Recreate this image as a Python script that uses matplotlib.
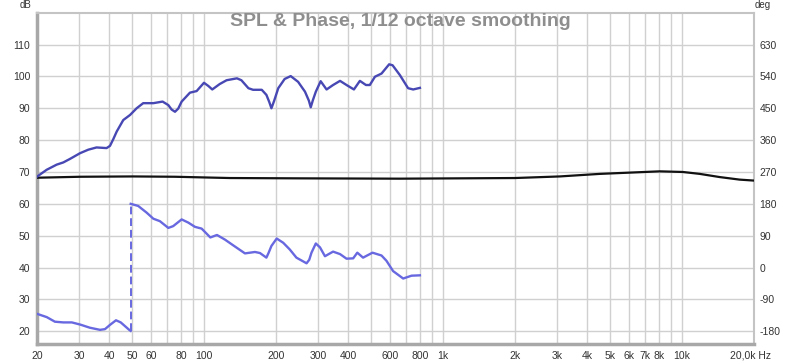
import matplotlib
matplotlib.use("Agg")
import matplotlib.pyplot as plt
from matplotlib.transforms import ScaledTranslation

plt.rcParams['font.family'] = ['Liberation Sans', 'DejaVu Sans']

# ---------------- data ----------------
spl_freq = [20, 21.9, 24.1, 25.7, 27.4, 30.2, 32.7, 35.4, 39.0, 40.3, 41.6, 43.0, 45.8,
            48.9, 52.1, 55.5, 61.2, 66.9, 70.7, 73.0, 75.4, 77.8, 80.4, 87.1, 92.9, 99.7,
            104, 108, 116, 124, 137, 143, 153, 160, 174, 182, 187, 191, 196, 204, 217, 230,
            247, 264, 274, 279, 285, 293, 307, 325, 346, 370, 394, 423, 448, 475, 493,
            518, 552, 594, 614, 659, 713, 749, 799]
spl_db = [68.6, 70.7, 72.3, 73.0, 74.1, 75.9, 77.0, 77.7, 77.5, 78.2, 80.3, 82.7, 86.3,
          87.9, 90.0, 91.6, 91.6, 92.1, 91.0, 89.6, 88.9, 89.9, 92.1, 94.9, 95.4, 98.0,
          97.0, 95.9, 97.6, 98.8, 99.4, 98.8, 96.3, 95.8, 95.8, 94.2, 92.0, 90.0, 92.3, 96.3, 99.2, 100.1,
          98.3, 95.2, 92.4, 90.3, 92.6, 95.2, 98.5, 95.9, 97.3, 98.6, 97.3, 95.9, 98.6, 97.3, 97.3,
          99.9, 100.9, 103.8, 103.5, 100.4, 96.3, 95.9, 96.4]

# phase below the wrap (degrees)
phase_lo_freq = [20, 21.9, 23.7, 25.7, 27.9, 30.2, 33.2, 36.6, 38.4, 40.3, 42.7,
                 44.7, 48.5, 49.2]
phase_lo_deg = [-131, -140, -153, -155, -155, -161, -170, -176, -174, -162, -149,
                -155, -176, -179]
# phase above the wrap (degrees)
phase_hi_freq = [49.2, 52.9, 57.4, 61.2, 65.2, 70.7, 74.1, 80.4, 85.7, 91.4, 97.5,
                 106, 113, 122, 132, 148, 163, 171, 182, 186, 191, 201, 214, 228, 243,
                 268, 275, 281, 293, 305, 320, 346, 370, 394, 420, 437, 462, 506, 552,
                 579, 617, 680, 737, 799]
phase_hi_deg = [180, 174, 155, 138, 131, 112, 117, 136, 127, 115, 110,
                85, 92, 79, 63, 40, 44, 41, 28, 42, 61, 82, 70, 51, 28,
                12, 22, 42, 68, 57, 32, 45, 38, 25, 26, 42, 28, 42, 34,
                19, -10, -31, -23, -22]

ref_freq = [20, 30.2, 50.3, 75.4, 128, 251, 659, 1994, 3076, 4520, 6040, 8060,
            10070, 11860, 14380, 17420, 20000]
ref_db = [68.2, 68.5, 68.6, 68.5, 68.1, 68.0, 67.9, 68.1, 68.6, 69.4, 69.8, 70.2,
          70.0, 69.4, 68.4, 67.6, 67.3]

db_ticks = [20, 30, 40, 50, 60, 70, 80, 90, 100, 110]
deg_ticks = [-180, -90, 0, 90, 180, 270, 360, 450, 540, 630]
x_label_pos = [20, 30, 40, 50, 60, 80, 100, 200, 300, 400, 600, 800, 1000, 2000,
               3000, 4000, 5000, 6000, 7000, 8000, 10000, 20000]
x_labels = ['20', '30', '40', '50', '60', '80', '100', '200', '300', '400', '600',
            '800', '1k', '2k', '3k', '4k', '5k', '6k', '7k', '8k', '10k', '20,0k Hz']

# ---------------- figure ----------------
W, H = 800, 364
fig = plt.figure(figsize=(W / 100, H / 100), dpi=100)
L, R, T, B = 37.3, 754, 12.7, 344
ax = fig.add_axes([L / W, (H - B) / H, (R - L) / W, (B - T) / H])
ax.set_xscale('log')
ax.set_xlim(20, 20000)
ax.set_ylim(16, 120)

grid_pos = []
for dec in [10, 100, 1000, 10000]:
    for m in range(1, 10):
        v = m * dec
        if 20 <= v <= 20000:
            grid_pos.append(v)
ax.set_xticks(grid_pos)
lab_map = dict(zip(x_label_pos, x_labels))
ax.set_xticklabels([lab_map.get(v, '') for v in grid_pos])
ax.xaxis.set_minor_locator(matplotlib.ticker.NullLocator())
ax.set_yticks(db_ticks)
ax.set_yticklabels([str(v) for v in db_ticks])
ax.tick_params(axis='both', length=0, labelsize=7.5, colors='#333333')
ax.tick_params(axis='x', pad=5)
ax.tick_params(axis='y', pad=5)
ax.grid(True, color='#d0d0d0', lw=1.0)
ax.set_axisbelow(True)

for lbl in ax.get_xticklabels():
    if lbl.get_text() == '20,0k Hz':
        lbl.set_transform(lbl.get_transform() + ScaledTranslation(-4 / 100, 0, fig.dpi_scale_trans))

for s in ['left', 'bottom']:
    ax.spines[s].set_color('#a8a8a8')
    ax.spines[s].set_linewidth(2.5)
for s in ['top', 'right']:
    ax.spines[s].set_color('#c4c4c4')
    ax.spines[s].set_linewidth(1.5)

ax.plot(ref_freq, ref_db, color='#111111', lw=1.6, zorder=3, solid_joinstyle='round')
ax.plot(spl_freq, spl_db, color='#4848b4', lw=1.7, zorder=4, solid_joinstyle='round')

ax2 = ax.twinx()
ax2.set_ylim(-216, 720)
ax2.set_yticks(deg_ticks)
ax2.set_yticklabels([str(v) for v in deg_ticks])
ax2.tick_params(axis='y', length=0, labelsize=7.5, colors='#333333', pad=4)
for s in ax2.spines.values():
    s.set_visible(False)
pc = '#6868e0'
ax2.plot(phase_lo_freq, phase_lo_deg, color=pc, lw=1.7, solid_joinstyle='round')
ax2.plot(phase_hi_freq, phase_hi_deg, color=pc, lw=1.7, solid_joinstyle='round')
ax2.plot([phase_lo_freq[-1], phase_hi_freq[0]], [phase_lo_deg[-1], phase_hi_deg[0]],
         color=pc, lw=1.4, ls=(0, (4, 2)))

fig.text(25 / W, 1 - 5 / H, 'dB', ha='center', va='center', fontsize=7, color='#333333')
fig.text(763 / W, 1 - 5 / H, 'deg', ha='center', va='center', fontsize=7, color='#333333')
fig.text(400 / W, 1 - 21 / H, 'SPL & Phase, 1/12 octave smoothing', ha='center',
         va='center', fontsize=14, fontweight='bold', color='#8e8e8e')

fig.savefig('out.png', dpi=100, facecolor='white')
